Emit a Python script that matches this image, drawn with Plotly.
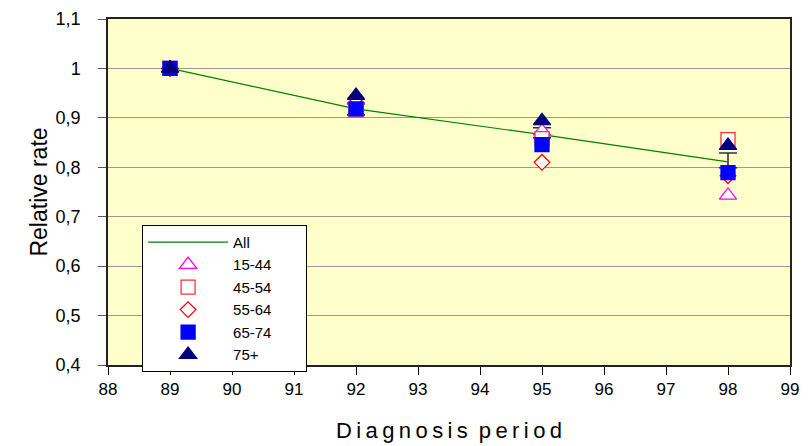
import plotly.graph_objects as go

# Diagnosis periods (x axis) and relative rates by age group
periods = [89, 92, 95, 98]
all_rate = [1.000, 0.918, 0.866, 0.811]
all_hi = [1.000, 0.930, 0.880, 0.829]
all_lo = [1.000, 0.906, 0.860, 0.799]
rate_15_44 = [1.000, 0.935, 0.873, 0.743]
rate_45_54 = [1.000, 0.916, 0.858, 0.856]
rate_55_64 = [1.000, 0.940, 0.810, 0.783]
rate_65_74 = [1.000, 0.918, 0.846, 0.789]
rate_75p = [1.000, 0.945, 0.894, 0.844]

x_ticks = list(range(88, 100))
x_ticktext = [str(v) for v in x_ticks]
y_ticks = [0.4, 0.5, 0.6, 0.7, 0.8, 0.9, 1.0, 1.1]
y_ticktext = ["0,4", "0,5", "0,6", "0,7", "0,8", "0,9", "1", "1,1"]

FONT = "Liberation Sans, Arial, sans-serif"
PAD = "\u00a0" * 7  # widens the legend box to the right

fig = go.Figure()

# Overall trend with its confidence range
fig.add_trace(go.Scatter(
    x=periods, y=all_rate, name="All", mode="lines",
    line=dict(color="#008000", width=1.2),
    error_y=dict(
        type="data", symmetric=False,
        array=[h - v for h, v in zip(all_hi, all_rate)],
        arrayminus=[v - l for l, v in zip(all_lo, all_rate)],
        color="#333333", thickness=1.6, width=9,
    ),
))

age_groups = [
    ("15-44", rate_15_44, "triangle-up", "white", "#FF00FF", 15),
    ("45-54" + PAD, rate_45_54, "square", "white", "#FF3333", 14),
    ("55-64", rate_55_64, "diamond", "white", "#FF0000", 12),
    ("65-74", rate_65_74, "square", "#0000FF", "#0000FF", 14),
    ("75+", rate_75p, "triangle-up", "#000080", "#000080", 15),
]
for name, vals, sym, fill, edge, size in age_groups:
    fig.add_trace(go.Scatter(
        x=periods, y=vals, name=name, mode="markers",
        marker=dict(symbol=sym, size=size, color=fill,
                    line=dict(color=edge, width=1.3)),
    ))

fig.update_layout(
    width=809, height=446,
    margin=dict(l=108, r=19, t=19, b=81),
    paper_bgcolor="white",
    plot_bgcolor="#FFFFCC",
    font=dict(family=FONT, size=17, color="black"),
    legend=dict(
        x=0.05, y=0.405, xanchor="left", yanchor="top",
        bgcolor="white", bordercolor="black", borderwidth=1,
        font=dict(family=FONT, size=15, color="black"),
        itemwidth=80, tracegroupgap=0,
    ),
    showlegend=True,
)

diag_title = "\u2009".join("Diagnosis") + "\u2002" + "\u2009".join("period")

fig.update_xaxes(
    range=[88, 99], tickvals=x_ticks, ticktext=x_ticktext,
    ticks="outside", ticklen=8, tickcolor="black", tickwidth=1,
    showline=True, linecolor="#222222", linewidth=1.5, mirror=True,
    showgrid=False, zeroline=False, automargin=False,
    tickfont=dict(family=FONT, size=17),
    title=dict(text=diag_title, font=dict(family=FONT, size=22), standoff=24),
)
fig.update_yaxes(
    range=[0.4, 1.1], tickvals=y_ticks, ticktext=y_ticktext,
    ticks="outside", ticklen=8, tickcolor="#555555", tickwidth=1,
    showline=True, linecolor="#222222", linewidth=1.5, mirror=True,
    showgrid=True, gridcolor="#999999", gridwidth=1, zeroline=False,
    automargin=False,
    tickfont=dict(family=FONT, size=18),
    ticklabelstandoff=14,
    title=dict(text="Relative rate", font=dict(family=FONT, size=23), standoff=2),
)

fig.write_html("out.html")
